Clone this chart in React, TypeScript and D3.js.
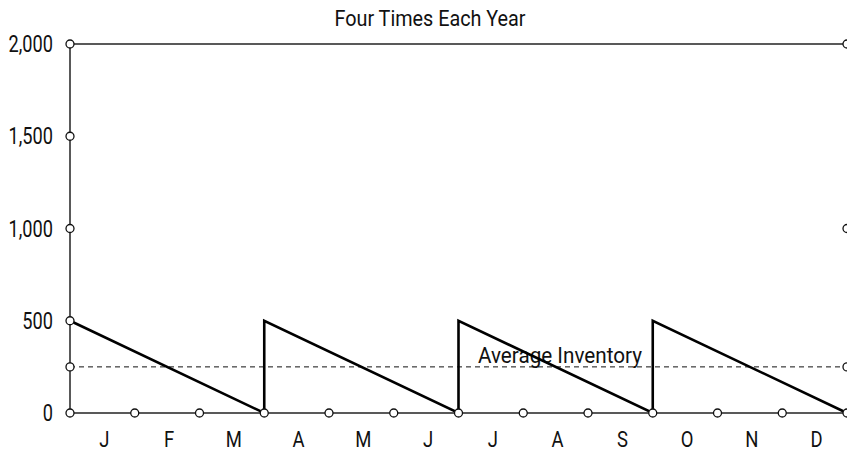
import * as d3 from "d3";

const months = ["J", "F", "M", "A", "M", "J", "J", "A", "S", "O", "N", "D"];
const leftTicks = [0, 500, 1000, 1500, 2000];
const leftMarkers = [0, 250, 500, 1000, 1500, 2000];
const rightMarkers = [0, 250, 1000, 2000];
const monthMarkers = [0, 1, 2, 3, 4, 5, 6, 7, 8, 9, 10, 11, 12];
// inventory: [month position, units on hand]
const inventoryMonth = [0, 3, 3, 6, 6, 9, 9, 12];
const inventoryValue = [500, 0, 500, 0, 500, 0, 500, 0];
const averageInventory = 250;
const title = "Four Times Each Year";

// roboto squeezed horizontally, stands in for the condensed face of the original
function CondText({ x, y, size, sx, anchor = "start", children }) {
  return (
    <text
      transform={`translate(${x},${y}) scale(${sx},1)`}
      textAnchor={anchor}
      fontSize={size}
      fill="#111"
    >
      {children}
    </text>
  );
}

export default function App({
  width = 847,
  height = 453,
  marginTop = 44,
  marginRight = 0,
  marginBottom = 40,
  marginLeft = 70,
}) {
  const x = d3.scaleLinear([0, 12], [marginLeft, width - marginRight]);
  const y = d3.scaleLinear([0, 2000], [height - marginBottom, marginTop]);
  const fmt = d3.format(",");

  const line = d3.line<number>(
    (d, i) => x(inventoryMonth[i]),
    (d) => y(d)
  );

  const marker = (cx: number, cy: number, key: string) => (
    <circle key={key} cx={cx} cy={cy} r={4} fill="white" stroke="#111" strokeWidth={1.3} />
  );

  return (
    <svg
      width={width}
      height={height}
      style={{ position: "absolute", left: 0, top: 0, background: "white" }}
      fontFamily="Roboto, sans-serif"
    >
      <CondText x={430} y={26} size={22} sx={0.9} anchor="middle">
        {title}
      </CondText>

      {/* frame: left axis, top and bottom lines */}
      <g stroke="#222" strokeWidth={1.5} fill="none">
        <line x1={x(0)} x2={x(0)} y1={y(0)} y2={y(2000)} />
        <line x1={x(0)} x2={x(12)} y1={y(2000)} y2={y(2000)} />
        <line x1={x(0)} x2={x(12)} y1={y(0)} y2={y(0)} />
      </g>

      <line
        x1={x(0)}
        x2={x(12)}
        y1={y(averageInventory)}
        y2={y(averageInventory)}
        stroke="#111"
        strokeWidth={1}
        strokeDasharray="5,4"
      />
      <CondText x={478} y={y(averageInventory) - 4} size={22} sx={0.94}>
        Average Inventory
      </CondText>

      <path
        d={line(inventoryValue) ?? ""}
        fill="none"
        stroke="#000"
        strokeWidth={2.6}
        strokeLinejoin="miter"
      />

      {leftTicks.map((t) => (
        <CondText key={`yl${t}`} x={x(0) - 17} y={y(t) + 8} size={23} sx={0.79} anchor="end">
          {fmt(t)}
        </CondText>
      ))}

      {months.map((m, i) => (
        <CondText key={`m${i}`} x={x(i + 0.5) + 2} y={447} size={22} sx={0.84} anchor="middle">
          {m}
        </CondText>
      ))}

      {leftMarkers.map((t) => marker(x(0), y(t), `lm${t}`))}
      {rightMarkers.map((t) => marker(x(12), y(t), `rm${t}`))}
      {monthMarkers.slice(1, -1).map((m) => marker(x(m), y(0), `mm${m}`))}
    </svg>
  );
}
